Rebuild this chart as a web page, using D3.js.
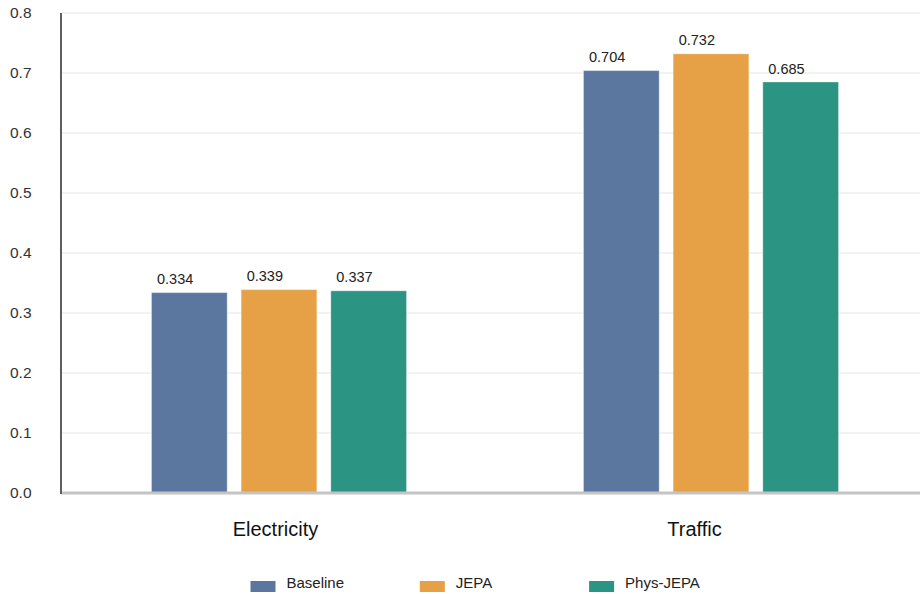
<!DOCTYPE html>
<html>
<head>
<meta charset="utf-8">
<script src="https://cdn.jsdelivr.net/npm/d3@7"></script>
<style>
  html, body { margin: 0; padding: 0; background: #fff; }
  svg { display: block; font-family: "Liberation Sans", Arial, sans-serif; }
</style>
</head>
<body>
<svg id="chart" width="920" height="594"></svg>
<script>
// Datasets and model variants
const categories = ["Electricity", "Traffic"];
const seriesNames = ["Baseline", "JEPA", "Phys-JEPA"];
const baselineValues = [0.334, 0.704];
const jepaValues = [0.339, 0.732];
const physJepaValues = [0.337, 0.685];
const yTicks = [0.0, 0.1, 0.2, 0.3, 0.4, 0.5, 0.6, 0.7, 0.8];
const colors = ["#5b77a0", "#e6a146", "#2b9483"];

const seriesValues = [baselineValues, jepaValues, physJepaValues];
const rows = categories.map((c, i) => ({
  category: c,
  values: seriesNames.map((s, j) => ({ series: s, value: seriesValues[j][i], color: colors[j] }))
}));

const svg = d3.select("#chart");
const plot = { left: 61, right: 920, top: 13, bottom: 493 };

const y = d3.scaleLinear().domain([0, 0.8]).range([plot.bottom, plot.top]);

// group positions for the bars
const x0 = d3.scaleBand().domain(categories).range([63, 927]);
// positions for the category captions
const xLabel = d3.scaleBand().domain(categories).range([66, 904]);
// bars inside one group, relative to the group centre
const x1 = d3.scaleBand().domain(seriesNames).range([-134.5, 134.5])
  .paddingInner(14 / 90).paddingOuter(7 / 90);

// horizontal gridlines
svg.append("g").selectAll("line")
  .data(yTicks.filter(t => t > 0))
  .join("line")
  .attr("x1", plot.left).attr("x2", plot.right)
  .attr("y1", d => y(d)).attr("y2", d => y(d))
  .attr("stroke", "#e6e6e6").attr("stroke-width", 1);

// y tick labels
svg.append("g").selectAll("text")
  .data(yTicks)
  .join("text")
  .attr("x", 10).attr("y", d => y(d))
  .attr("dy", "0.35em")
  .attr("font-size", 15.5)
  .attr("fill", "#333")
  .text(d => d3.format(".1f")(d));

// bars
const groups = svg.append("g").selectAll("g")
  .data(rows)
  .join("g")
  .attr("transform", d => `translate(${x0(d.category) + x0.bandwidth() / 2},0)`);

groups.selectAll("rect")
  .data(d => d.values)
  .join("rect")
  .attr("x", d => x1(d.series))
  .attr("y", d => y(d.value))
  .attr("width", x1.bandwidth())
  .attr("height", d => y(0) - y(d.value))
  .attr("fill", d => d.color)
  .attr("stroke", "rgba(255,255,255,0.35)")
  .attr("stroke-width", 1);

// value labels
groups.selectAll("text")
  .data(d => d.values)
  .join("text")
  .attr("x", d => x1(d.series) + 5.5)
  .attr("y", d => y(d.value) - 8.5)
  .attr("font-size", 14.5)
  .attr("fill", "#222")
  .text(d => d3.format(".3f")(d.value));

// x axis baseline
svg.append("line")
  .attr("x1", plot.left).attr("x2", plot.right)
  .attr("y1", plot.bottom).attr("y2", plot.bottom)
  .attr("stroke", "#c4c4c4").attr("stroke-width", 3);

// y axis line
svg.append("line")
  .attr("x1", plot.left).attr("x2", plot.left)
  .attr("y1", plot.top).attr("y2", plot.bottom + 1)
  .attr("stroke", "#5f5f5f").attr("stroke-width", 2);

// category captions
svg.append("g").selectAll("text")
  .data(categories)
  .join("text")
  .attr("x", d => xLabel(d) + xLabel.bandwidth() / 2)
  .attr("y", 536)
  .attr("text-anchor", "middle")
  .attr("font-size", 20)
  .attr("fill", "#111")
  .text(d => d);

// legend
const legend = svg.append("g").selectAll("g")
  .data(seriesNames)
  .join("g")
  .attr("transform", (d, i) => `translate(${250.5 + i * 169.3},581)`);

legend.append("rect")
  .attr("width", 25).attr("height", 11)
  .attr("fill", (d, i) => colors[i]);

legend.append("text")
  .attr("x", 36).attr("y", 7)
  .attr("font-size", 15)
  .attr("fill", "#222")
  .text(d => d);
</script>
</body>
</html>
